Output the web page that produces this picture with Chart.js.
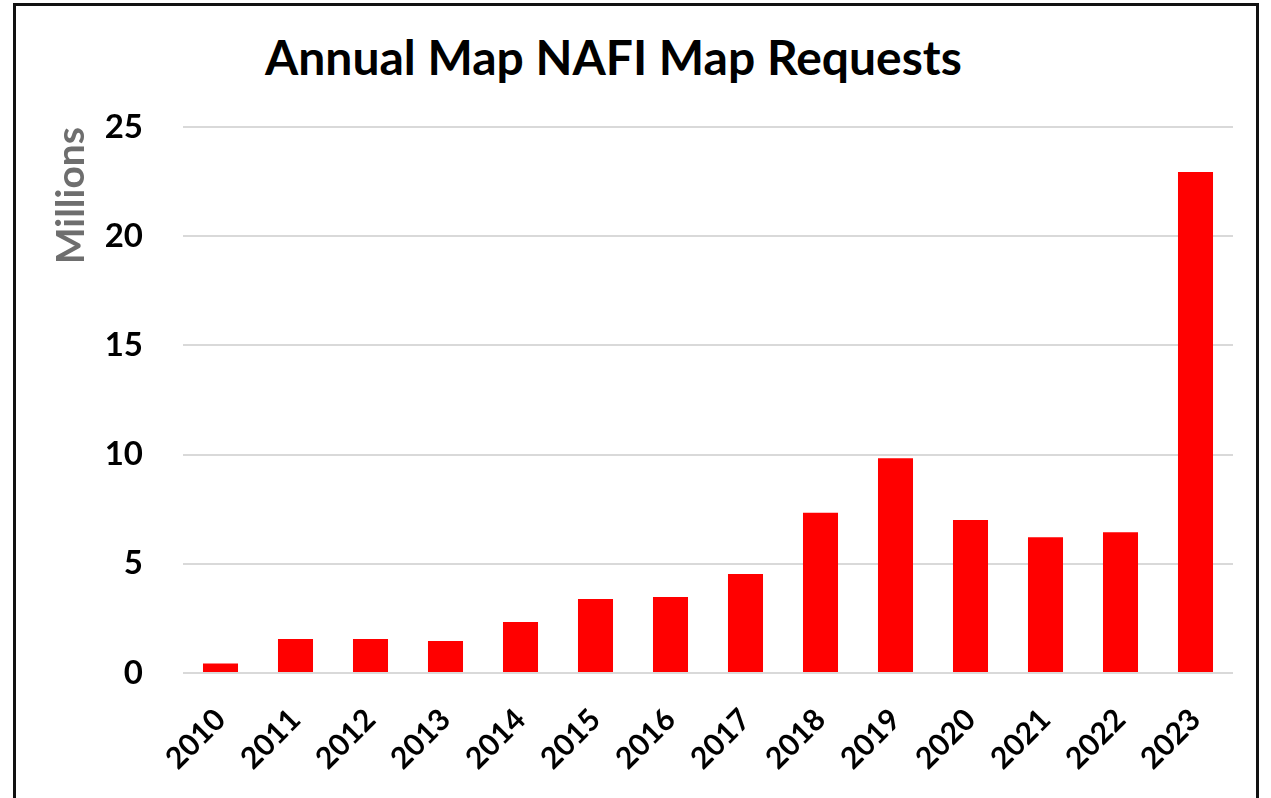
<!DOCTYPE html>
<html>
<head>
<meta charset="utf-8">
<script src="https://cdn.jsdelivr.net/npm/chart.js@4/dist/chart.umd.min.js"></script>
<style>
  html, body { margin: 0; padding: 0; background: #fff; }
  body { width: 1271px; height: 798px; position: relative; overflow: hidden; }
  #frame {
    position: absolute; left: 13px; top: 3px; width: 1246px; height: 810px;
    border: 3px solid #111; box-sizing: border-box;
  }
  #title {
    position: absolute; left: 265px; top: 33px;
    font: bold 48px Lato, sans-serif; line-height: 48px; color: #000; white-space: nowrap;
  }
  #box { position: absolute; left: 15px; top: 6px; width: 1242px; height: 792px; }
</style>
</head>
<body>
<div id="frame"></div>
<div id="title">Annual Map NAFI Map Requests</div>
<div id="box"><canvas id="chart"></canvas></div>
<script>
// years on the x axis
const years = ['2010', '2011', '2012', '2013', '2014', '2015', '2016',
               '2017', '2018', '2019', '2020', '2021', '2022', '2023'];
// map requests per year, in millions
const requests = [0.43, 1.56, 1.56, 1.47, 2.34, 3.39, 3.48,
                  4.53, 7.34, 9.83, 7.0, 6.21, 6.44, 22.94];
const yTicks = [0, 5, 10, 15, 20, 25];

const canvas = document.getElementById('chart');
const chart = new Chart(canvas, {
  type: 'bar',
  data: {
    labels: years,
    datasets: [{
      label: 'Requests',
      data: requests,
      backgroundColor: '#ff0000',
      borderWidth: 0,
      barPercentage: 0.467,
      categoryPercentage: 1.0,
    }]
  },
  options: {
    responsive: true,
    maintainAspectRatio: false,
    animation: false,
    layout: {
      padding: { top: 121, right: 24, left: 0, bottom: 0 }
    },
    plugins: {
      legend: { display: false },
      title: { display: false },
      tooltip: { enabled: false }
    },
    scales: {
      x: {
        grid: { display: false, drawTicks: false },
        border: { display: false },
        ticks: {
          color: '#000',
          font: { family: 'Lato', size: 30, weight: 'bold' },
          minRotation: 45,
          maxRotation: 45,
          padding: 29,
        },
        afterFit: (scale) => { scale.height = 125; }
      },
      y: {
        min: 0,
        max: 25,
        afterBuildTicks: (scale) => { scale.ticks = yTicks.map(v => ({ value: v })); },
        grid: { color: '#d9d9d9', lineWidth: 2, drawTicks: false },
        border: { display: false },
        ticks: {
          color: '#000',
          font: { family: 'Lato', size: 33, weight: 'bold' },
          padding: 40,
        },
        title: {
          display: true,
          text: 'Millions',
          align: 'end',
          color: '#6e6e6e',
          font: { family: 'Lato', size: 39, weight: 'bold' },
          padding: { top: 33, bottom: 0 }
        },
        afterFit: (scale) => { scale.width = 168; }
      }
    }
  }
});
</script>
</body>
</html>
